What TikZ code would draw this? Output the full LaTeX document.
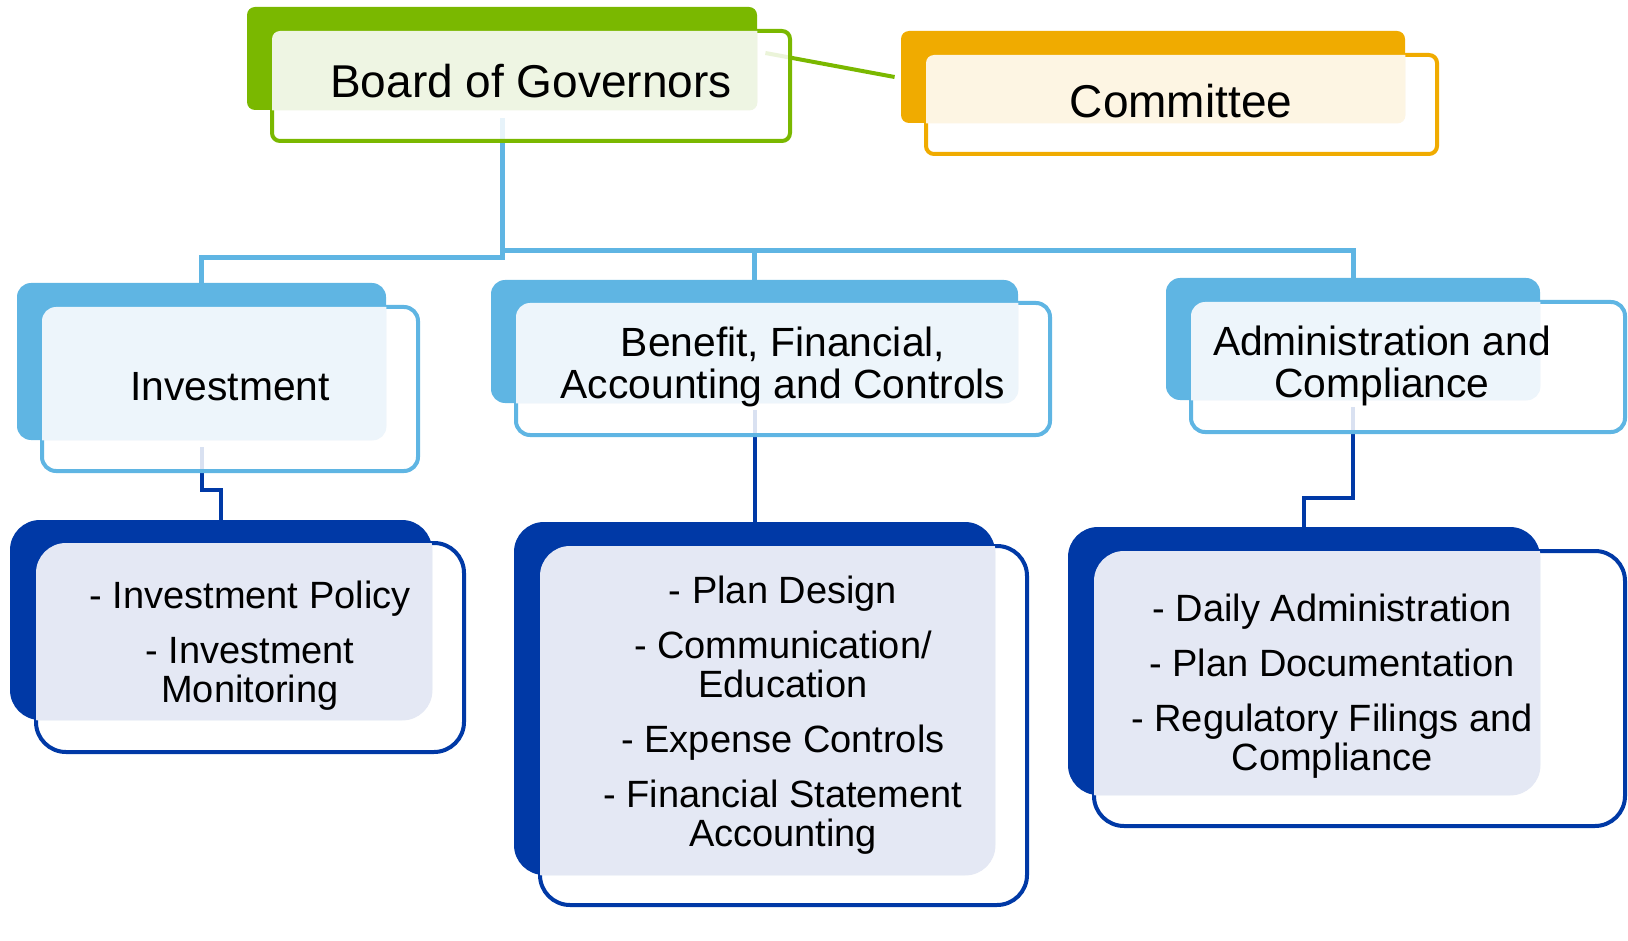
\documentclass[tikz,border=0pt]{standalone}
\usepackage{fontspec}
\setmainfont{Liberation Sans}
\usetikzlibrary{fit,calc}

\definecolor{grn}{HTML}{7AB800}
\definecolor{grnpale}{HTML}{EEF5E3}
\definecolor{org}{HTML}{F0AB00}
\definecolor{orgpale}{HTML}{FDF5E3}
\definecolor{lb}{HTML}{5FB5E3}
\definecolor{lbpale}{HTML}{EDF5FB}
\definecolor{db}{HTML}{0039A6}
\definecolor{dbpale}{HTML}{E4E8F4}

\tikzset{
  backbox/.style={inner sep=0pt, fill=#1},
  frontbox/.style={inner sep=0pt, draw=#1, line width=2pt, fill=white, fill opacity=.85},
  lbline/.style={draw=lb, line width=2.5pt},
  dbline/.style={draw=db, line width=2pt},
  grnline/.style={draw=grn, line width=2pt},
  topfont/.style={font=\fontsize{23}{24}\selectfont},
  midfont/.style={font=\fontsize{20.4}{21}\selectfont, align=center},
  lowfont/.style={font=\fontsize{19}{19.5}\selectfont, align=center},
}

\begin{document}
\begin{tikzpicture}[x=0.5pt, y=-0.5pt]
  \useasboundingbox (0,0) rectangle (1628,941);

  % solid back plates
  \node[backbox=grn, rounded corners=4pt, fit={(247,7) (757,110)}] (boardback) {};
  \node[backbox=org, rounded corners=4pt, fit={(901,31) (1405,123)}] (commback) {};
  \node[backbox=lb, rounded corners=7pt, fit={(17,283) (386,440)}] (invback) {};
  \node[backbox=lb, rounded corners=7pt, fit={(491,280) (1018,403)}] (benback) {};
  \node[backbox=lb, rounded corners=7pt, fit={(1166,278) (1540,400)}] (admback) {};
  \node[backbox=db, rounded corners=15pt, fit={(10,520) (432,720)}] (invlback) {};
  \node[backbox=db, rounded corners=15pt, fit={(514,522) (995,875)}] (benlback) {};
  \node[backbox=db, rounded corners=15pt, fit={(1068,527) (1540,795)}] (admlback) {};

  % connectors
  \draw[grnline] ([xshift=4pt,yshift=2.75pt]boardback.east) -- ([xshift=-3pt]commback.west);
  \draw[lbline] ([yshift=-4pt]boardback.south) -- ++(0,139) -| (invback.north);
  \draw[lbline] ([yshift=-4pt]boardback.south) ++(0,132) -| (admback.north);
  \draw[lbline] (benback.north) -- ++(0,-30);
  \draw[dbline] ([yshift=-3.5pt]invback.south) -- ++(0,43) -| (invlback.north);
  \draw[dbline] ([yshift=-3.5pt]benback.south) -- (benlback.north);
  \draw[dbline] ([yshift=-3.5pt]admback.south) -- ++(0,91) -| (admlback.north);

  % framed front boxes
  \node[frontbox=grn, rounded corners=4pt, fit={(272,31) (790,141)}] (board) {};
  \node[frontbox=org, rounded corners=4pt, fit={(926,55) (1437,154)}] (comm) {};
  \node[frontbox=lb, rounded corners=7pt, fit={(42,307) (418,471)}] (inv) {};
  \node[frontbox=lb, rounded corners=7pt, fit={(516,303) (1050,435)}] (ben) {};
  \node[frontbox=lb, rounded corners=7pt, fit={(1191,302) (1625,432)}] (adm) {};
  \node[frontbox=db, rounded corners=15pt, fit={(36,543) (464,752)}] (invl) {};
  \node[frontbox=db, rounded corners=15pt, fit={(540,546) (1027,905)}] (benl) {};
  \node[frontbox=db, rounded corners=15pt, fit={(1094,551) (1625,826)}] (adml) {};

  \foreach \nm/\col/\rad in {board/grn/4pt, comm/org/4pt, inv/lb/7pt, ben/lb/7pt, adm/lb/7pt,
                             invl/db/15pt, benl/db/15pt, adml/db/15pt} {
    \begin{scope}
      \clip[rounded corners=\rad] ([shift={(1pt,-1pt)}]\nm.north west) rectangle ([shift={(-1pt,1pt)}]\nm.south east);
      \fill[\col pale, rounded corners=\rad] (\nm back.north west) rectangle (\nm back.south east);
    \end{scope}
  }

  % labels
  \node[topfont] (boardtxt) at (531,81) {Board of Governors};
  \node[topfont] (commtxt) at (1181,101) {Committee};
  \node[midfont] (invtxt) at (230,387) {Investment};
  \node[midfont] (bentxt) at (783,367) {Benefit, Financial,\\Accounting and Controls};
  \node[midfont] (admtxt) at (1382,366) {Administration and\\Compliance};
  \node[lowfont] (invltxt) at (250,646) {- Investment Policy\\[8pt]- Investment\\Monitoring};
  \node[lowfont] (benltxt) at (783,715) {- Plan Design\\[8pt]- Communication/\\Education\\[8pt]- Expense Controls\\[8pt]- Financial Statement\\Accounting};
  \node[lowfont] (adtxt) at (1332,686) {- Daily Administration\\[8pt]- Plan Documentation\\[8pt]- Regulatory Filings and\\Compliance};
\end{tikzpicture}
\end{document}
